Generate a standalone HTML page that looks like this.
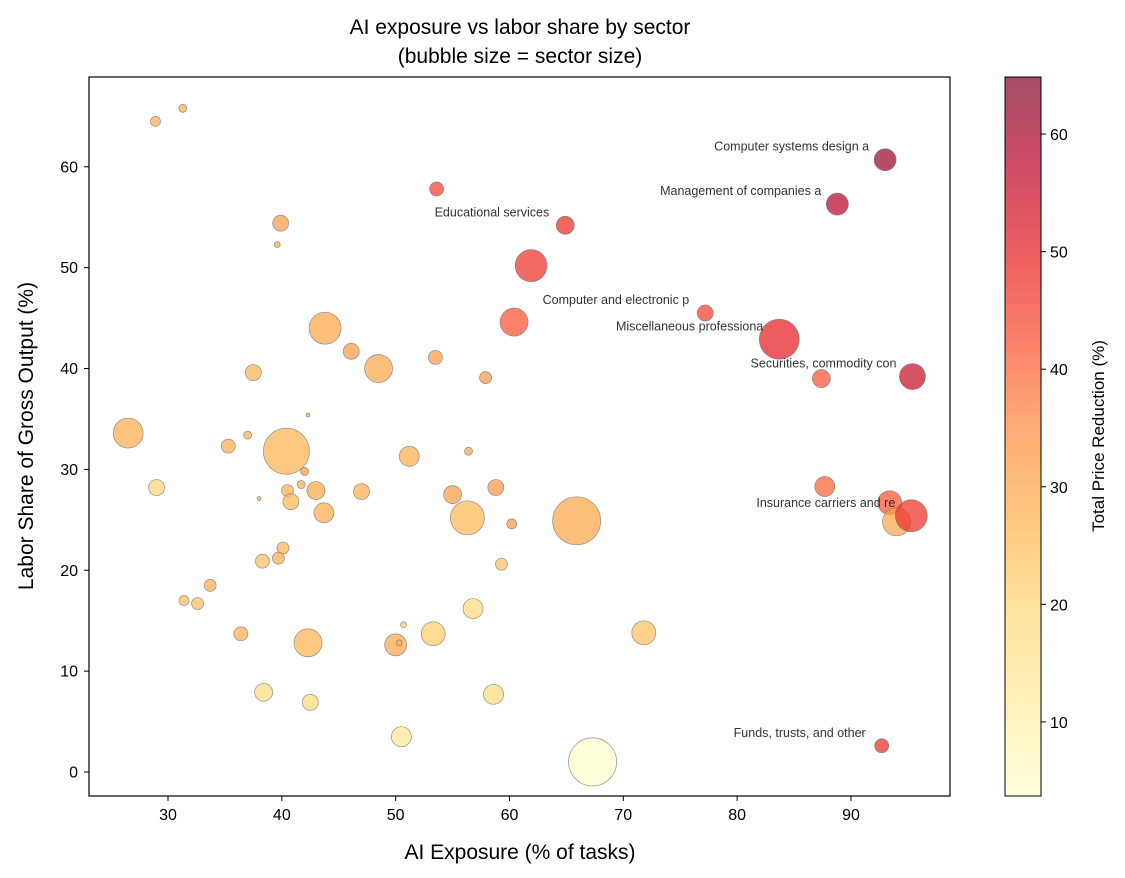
<!DOCTYPE html>
<html><head><meta charset="utf-8">
<style>
body{margin:0;background:#fff;}
svg{display:block;font-family:"Liberation Sans","DejaVu Sans",sans-serif;}
</style></head>
<body>
<svg id="chart" width="1125" height="878">
<defs>
<linearGradient id="cbg" x1="0" y1="1" x2="0" y2="0">
<stop offset="0" stop-color="#ffffcc"/><stop offset="0.125" stop-color="#ffeda0"/>
<stop offset="0.25" stop-color="#fed976"/><stop offset="0.375" stop-color="#feb24c"/>
<stop offset="0.5" stop-color="#fd8d3c"/><stop offset="0.625" stop-color="#fc4e2a"/>
<stop offset="0.75" stop-color="#e31a1c"/><stop offset="0.875" stop-color="#bd0026"/>
<stop offset="1" stop-color="#800026"/>
</linearGradient>
</defs>
<text x="520" y="34" text-anchor="middle" font-size="21">AI exposure vs labor share by sector</text>
<text x="520" y="63" text-anchor="middle" font-size="21">(bubble size = sector size)</text>
<g id="plot"></g>
<rect x="89" y="77" width="861" height="719" fill="none" stroke="#000" stroke-width="1.2"/>
<text x="520" y="859" text-anchor="middle" font-size="21">AI Exposure (% of tasks)</text>
<text transform="translate(33,436) rotate(-90)" text-anchor="middle" font-size="21">Labor Share of Gross Output (%)</text>
<rect x="1005" y="77" width="36" height="719" fill="url(#cbg)" fill-opacity="0.7"/>
<rect x="1005" y="77" width="36" height="719" fill="none" stroke="#000" stroke-width="1"/>
<g id="cbticks"></g>
<text transform="translate(1104,436) rotate(-90)" text-anchor="middle" font-size="17">Total Price Reduction (%)</text>
</svg>
<script>
const exposure=[28.9,31.3,93.0,53.6,88.8,39.9,39.6,64.9,61.9,77.2,60.4,43.8,83.7,46.1,53.5,48.5,37.5,57.9,87.4,95.4,26.5,37.0,42.3,35.3,40.4,51.2,56.4,42.0,29.0,40.5,38.0,41.7,40.8,43.0,47.0,58.8,55.0,87.7,93.4,43.7,56.3,60.2,65.9,94.0,95.3,40.1,39.7,38.3,59.3,33.7,31.4,32.6,56.8,50.7,36.4,53.3,71.8,42.3,50.0,50.3,38.4,42.5,58.6,50.5,67.3,92.7];
const laborShare=[64.5,65.8,60.7,57.8,56.3,54.4,52.3,54.2,50.2,45.5,44.6,44.0,42.9,41.7,41.1,40.0,39.6,39.1,39.0,39.2,33.6,33.4,35.4,32.3,31.8,31.3,31.8,29.8,28.2,27.9,27.1,28.5,26.8,27.9,27.8,28.2,27.5,28.3,26.7,25.7,25.2,24.6,24.9,24.8,25.4,22.2,21.2,20.9,20.6,18.5,17.0,16.7,16.2,14.6,13.7,13.7,13.8,12.8,12.6,12.8,7.9,6.9,7.7,3.5,1.0,2.6];
const sectorSize=[25,16,121,49,121,64,9,81,256,64,196,256,400,64,49,196,64,36,81,169,225,16,4,49,529,100,16,16,64,36,4,16,64,81,64,64,81,100,144,100,289,25,576,196,256,36,36,49,36,36,25,36,100,9,49,144,144,196,121,9,81,64,100,100,576,49];
const priceReduction=[28,28,62,45,58,32,30,48,47,45,42,30,50,32,32,30,27,33,42,55,28,28,28,28,27,28,30,32,20,28,28,28,26,30,28,33,32,40,42,28,26,33,30,30,47,27,28,25,24,28,25,25,18,23,28,22,24,27,30,28,18,18,18,14,4,48];
const labelNames=["Computer systems design a","Management of companies a","Educational services","Computer and electronic p","Miscellaneous professiona","Securities, commodity con","Insurance carriers and re","Funds, trusts, and other"];
const labelIdx=[2,4,7,9,12,19,44,65];
const xTicks=[30,40,50,60,70,80,90];
const yTicks=[0,10,20,30,40,50,60];
const cTicks=[10,20,30,40,50,60];

const X0=89,X1=950,Y0=77,Y1=796,xmin=23.06,xmax=98.7,ymin=-2.38,ymax=68.9,cmin=3.7,cmax=64.85;
const xs=v=>X0+(v-xmin)/(xmax-xmin)*(X1-X0);
const ys=v=>Y1-(v-ymin)/(ymax-ymin)*(Y1-Y0);
const cs=v=>796-(v-cmin)/(cmax-cmin)*719;
const stops=["#ffffcc","#ffeda0","#fed976","#feb24c","#fd8d3c","#fc4e2a","#e31a1c","#bd0026","#800026"];
function cmap(v){let t=Math.max(0,Math.min(1,(v-cmin)/(cmax-cmin)))*8;let i=Math.min(7,Math.floor(t));let f=t-i;
const a=stops[i],b=stops[i+1];const p=(h,k)=>parseInt(h.substr(1+2*k,2),16);
return "rgb("+[0,1,2].map(k=>Math.round(p(a,k)+(p(b,k)-p(a,k))*f)).join(",")+")";}
const NS="http://www.w3.org/2000/svg";
const plot=document.getElementById("plot");
function el(tag,attrs,parent){const e=document.createElementNS(NS,tag);for(const k in attrs)e.setAttribute(k,attrs[k]);parent.appendChild(e);return e;}
xTicks.forEach(t=>{
 const l=el("line",{x1:xs(t),x2:xs(t),y1:796,y2:801,stroke:"#000"},plot);
 
 
 const tx=el("text",{x:xs(t),y:820,"text-anchor":"middle","font-size":"16"},plot);tx.textContent=t;
 
 
});
yTicks.forEach(t=>{
 const l=el("line",{x1:84,x2:89,y1:ys(t),y2:ys(t),stroke:"#000"},plot);
 
 
 const tx=el("text",{x:78,y:ys(t)+5.5,"text-anchor":"end","font-size":"16"},plot);tx.textContent=t;
 
 
});
exposure.forEach((v,i)=>{
 const c=el("circle",{cx:xs(v),cy:ys(laborShare[i]),r:Math.sqrt(sectorSize[i]),fill:cmap(priceReduction[i]),"fill-opacity":"0.7",stroke:"#777","stroke-opacity":"0.8","stroke-width":"0.7"},plot);
 
 
});
labelIdx.forEach((idx,k)=>{
 const t=el("text",{x:xs(exposure[idx])-16,y:ys(laborShare[idx])-9,"text-anchor":"end","font-size":"12.5",fill:"#333"},plot);
 t.textContent=labelNames[k];
 
 
});
const cb=document.getElementById("cbticks");
cTicks.forEach(t=>{
 const l=el("line",{x1:1041,x2:1046,y1:cs(t),y2:cs(t),stroke:"#000"},cb);
 
 
 const tx=el("text",{x:1050,y:cs(t)+6,"font-size":"16"},cb);tx.textContent=t;
 
 
});
</script>
</body></html>
